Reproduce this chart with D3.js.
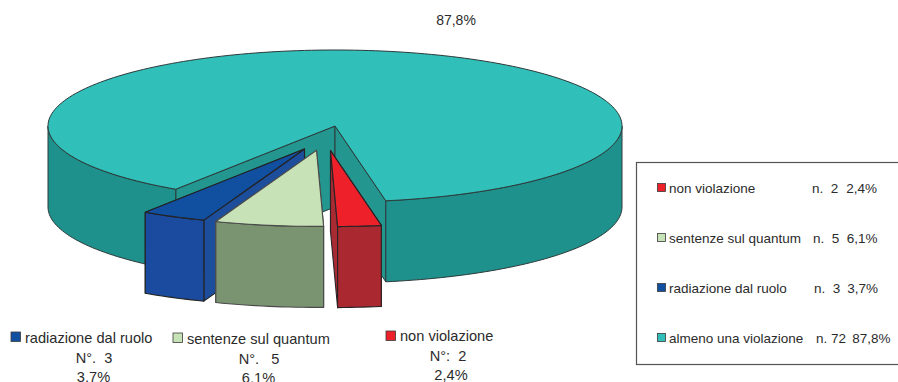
<!DOCTYPE html>
<html><head><meta charset="utf-8">
<script src="https://cdn.jsdelivr.net/npm/d3@7"></script>
<style>
html,body{margin:0;padding:0;background:#fff;overflow:hidden}
text{font-family:"Liberation Sans",Arial,sans-serif;fill:#2b2b2b}
</style></head><body>
<svg id="chart" width="898" height="382"></svg>
<script>
// Cases by outcome, clockwise from the front of the pie
const categories = ["non violazione", "sentenze sul quantum", "radiazione dal ruolo", "almeno una violazione"];
const counts = [2, 5, 3, 72];
const percents = ["2,4%", "6,1%", "3,7%", "87,8%"];
const topColors = ["#ee212b", "#c8e2b8", "#114fa0", "#30bfb9"];
const frontColors = ["#aa2830", "#7a9472", "#1b4b9e", "#1f918c"];
const wallColors = ["#a82a32", "#7a9472", "#1d4e9c", "#22968f"];
const edgeColors = ["#2a2326", "#4a4a4a", "#232323", "#2c3a3a"];
// Where each slice's centre sits on the page once pulled out of the pie
const sliceX = [330.5, 316.5, 304.5, 335];
const sliceY = [150.6, 150.4, 149, 126];
const sliceOrder = [3, 2, 1, 0];

const svg = d3.select("#chart");
const rx = 287, ry = 76, depth = 81;
const startDeg = 169.8;

const pie = d3.pie().sort(null)
  .startAngle(startDeg * Math.PI / 180)
  .endAngle((startDeg + 360) * Math.PI / 180);
const arcs = pie(counts);

const unitX = d3.scaleLinear().domain([-1, 1]).range([-rx, rx]);
const unitY = d3.scaleLinear().domain([-1, 1]).range([-ry, ry]);

// Rim point of the tilted disc; angle 0 is the back, growing clockwise
const rim = (i, a, dz = 0) => [
  sliceX[i] + unitX(Math.sin(a)),
  sliceY[i] + unitY(-Math.cos(a)) + dz
];
const centre = (i, dz = 0) => [sliceX[i], sliceY[i] + dz];
const samples = (a0, a1) => d3.range(0, 1.0001, 1 / Math.max(2, Math.ceil((a1 - a0) * 40)))
  .map(t => a0 + (a1 - a0) * t);
const line = d3.line();

function shape(g, pts, fill, stroke, width) {
  g.append("path").attr("d", line(pts) + "Z")
    .attr("fill", fill).attr("stroke", stroke)
    .attr("stroke-width", width).attr("stroke-linejoin", "round");
}

sliceOrder.forEach(i => {
  const g = svg.append("g");
  const { startAngle: a0, endAngle: a1 } = arcs[i];
  const sw = i === 3 ? 1 : 1.1;
  const stroke = edgeColors[i];

  // Cut faces, the one nearest the viewer's centre line painted last
  [a0, a1]
    .sort((p, q) => Math.abs(Math.sin(q)) - Math.abs(Math.sin(p)))
    .forEach(a => shape(g, [centre(i), rim(i, a), rim(i, a, depth), centre(i, depth)], wallColors[i], stroke, sw));

  // Curved outer side: only the part of the rim facing the viewer
  const front = i === 3
    ? [[a0, 1.5 * Math.PI], [2.5 * Math.PI, a1]]
    : [[a0, a1]];
  front.forEach(([s, e]) => {
    const top = samples(s, e).map(a => rim(i, a));
    const bottom = samples(s, e).reverse().map(a => rim(i, a, depth));
    shape(g, top.concat(bottom), frontColors[i], stroke, sw);
  });

  // Upper face
  const outline = [centre(i)].concat(samples(a0, a1).map(a => rim(i, a)));
  shape(g, outline, topColors[i], stroke, sw);
});

// Percentage above the large slice
svg.append("text").attr("x", 456).attr("y", 25).attr("text-anchor", "middle")
  .attr("font-size", 14).text(percents[3]);

// Captions under the pulled-out slices
const captionSwatchX = [386, 173, 11];
const captionSwatchY = [331, 333, 332];
const captionCountX = [448, 259, 94];
const captionPctX = [451, 258.5, 93.5];
const captionTopY = [341, 344, 343];
const captionCount = ["N°:  " + counts[0], "N°.   " + counts[1], "N°.  " + counts[2]];
[0, 1, 2].forEach(i => {
  svg.append("rect").attr("x", captionSwatchX[i]).attr("y", captionSwatchY[i])
    .attr("width", 9.5).attr("height", 9.5)
    .attr("fill", topColors[i]).attr("stroke", "#3a3a3a").attr("stroke-width", 0.8);
  svg.append("text").attr("x", captionSwatchX[i] + 14).attr("y", captionTopY[i])
    .attr("font-size", 14.6).text(categories[i]);
  svg.append("text").attr("x", captionCountX[i]).attr("y", captionTopY[i] + 20)
    .attr("text-anchor", "middle").attr("font-size", 14.6).style("white-space", "pre").text(captionCount[i]);
  svg.append("text").attr("x", captionPctX[i]).attr("y", captionTopY[i] + 39)
    .attr("text-anchor", "middle").attr("font-size", 14.6).text(percents[i]);
});

// Legend box, running off the right edge
svg.append("rect").attr("x", 636.5).attr("y", 162.5).attr("width", 300).attr("height", 202)
  .attr("fill", "#fff").attr("stroke", "#555").attr("stroke-width", 1.2);
const legendY = d3.scalePoint().domain(d3.range(4)).range([188, 338]);
const legendCountX = [812, 813, 814, 816];
const legendPctX = [877, 877.5, 878, 890.5];
categories.forEach((name, i) => {
  const y = legendY(i);
  svg.append("rect").attr("x", 657.5).attr("y", y - 4.5).attr("width", 8).attr("height", 8)
    .attr("fill", topColors[i]).attr("stroke", "#3a3a3a").attr("stroke-width", 0.8);
  svg.append("text").attr("x", 669).attr("y", y + 4.5).attr("font-size", 13.5).text(name);
  svg.append("text").attr("x", legendCountX[i]).attr("y", y + 4.5).attr("font-size", 13.5)
    .style("white-space", "pre").text("n." + (counts[i] < 10 ? "  " : " ") + counts[i]);
  svg.append("text").attr("x", legendPctX[i]).attr("y", y + 4.5).attr("text-anchor", "end")
    .attr("font-size", 13.5).text(percents[i]);
});
</script>
</body></html>
